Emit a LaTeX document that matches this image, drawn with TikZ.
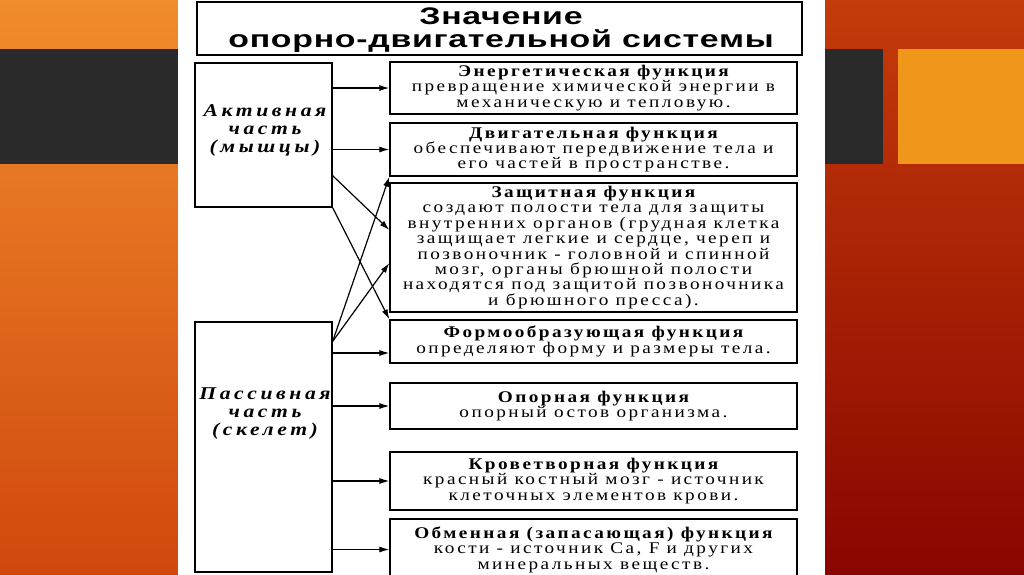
\documentclass[tikz,border=0pt]{standalone}
\usepackage{fontspec}
\setmainfont{Liberation Serif}
\newfontfamily\titlefont[FakeStretch=1.41,LetterSpace=3]{Liberation Sans}
\newfontfamily\bodyfont[FakeStretch=1.18,LetterSpace=15]{Liberation Serif}
\newfontfamily\sidefont[FakeStretch=1.2,LetterSpace=20]{Liberation Serif}
\usetikzlibrary{arrows.meta}
\definecolor{orTop}{HTML}{F08C2C}
\definecolor{orBot}{HTML}{D0480E}
\definecolor{rdTop}{HTML}{C43C0A}
\definecolor{rdBot}{HTML}{8A0500}
\definecolor{band}{HTML}{2A2A2A}
\definecolor{sq}{HTML}{F0961A}
\tikzset{
  box/.style={draw=black, line width=1.3pt, rectangle, inner sep=0pt},
  fbox/.style={box, minimum width=407pt, align=center,
    font=\bodyfont\fontsize{16.3}{15.4}\selectfont},
  sbox/.style={box, minimum width=137pt},
  stext/.style={align=center, inner sep=0pt,
    font=\sidefont\bfseries\itshape\fontsize{18}{18}\selectfont},
  arr/.style={line width=1.2pt, -{Latex[length=10pt,width=6pt]}}
}
\begin{document}
\begin{tikzpicture}[x=1pt,y=-1pt]
\useasboundingbox (0,0) rectangle (1024,574);
\clip (0,0) rectangle (1024,574);
% background
\shade[top color=orTop, bottom color=orBot] (0,0) rectangle (178,574);
\shade[top color=rdTop, bottom color=rdBot] (825,0) rectangle (1024,574);
\fill[white] (178,0) rectangle (825,574);
\fill[band] (0,49) rectangle (178,164);
\fill[band] (825,49) rectangle (883,164);
\fill[sq] (898,49) rectangle (1024,164);
% title
\node[box, minimum width=605pt, minimum height=53pt] (title) at (499.5,28.5) {};
\node[align=center, inner sep=0pt,
  font=\titlefont\bfseries\fontsize{24}{23.5}\selectfont] (titlet) at (501,30)
  {Значение\\опорно-двигательной системы};
% side boxes
\node[sbox, minimum height=144pt] (act) at (263.5,135) {};
\node[sbox, minimum height=250pt] (pas) at (263.5,447) {};
\node[stext] (actt) at (265,130) {Активная\\часть\\(мышцы)};
\node[stext] (past) at (265,414) {Пассивная\\часть\\(скелет)};
% function boxes
\node[fbox, minimum height=52pt] (f1) at (593.5,88)
  {{\bfseries Энергетическая функция}\\превращение химической энергии в\\механическую и тепловую.};
\node[fbox, minimum height=53pt] (f2) at (593.5,149.5)
  {{\bfseries Двигательная функция}\\обеспечивают передвижение тела и\\его частей в пространстве.};
\node[fbox, minimum height=129pt] (f3) at (593.5,247.5)
  {{\bfseries Защитная функция}\\создают полости тела для защиты\\внутренних органов (грудная клетка\\защищает легкие и сердце, череп и\\позвоночник - головной и спинной\\мозг, органы брюшной полости\\находятся под защитой позвоночника\\и брюшного пресса).};
\node[fbox, minimum height=43pt] (f4) at (593.5,341.5)
  {{\bfseries Формообразующая функция}\\определяют форму и размеры тела.};
\node[fbox, minimum height=46pt] (f5) at (593.5,406)
  {{\bfseries Опорная функция}\\опорный остов организма.};
\node[fbox, minimum height=58pt] (f6) at (593.5,481)
  {{\bfseries Кроветворная функция}\\красный костный мозг - источник\\клеточных элементов крови.};
\node[fbox, minimum height=61pt] (f7) at (593.5,549.5)
  {{\bfseries Обменная (запасающая) функция}\\кости - источник Са, F и других\\минеральных веществ.};
% connectors
\coordinate (a3) at ([yshift=32pt]act.south east);
\coordinate (t3a) at ([yshift=17.5pt]f3.west);
\coordinate (p0) at ([yshift=-20pt]pas.north east);
\coordinate (t3b) at ([yshift=-15.5pt]f3.west);
\coordinate (t4) at ([yshift=-11.5pt]f4.west);
\draw[arr] (act.east |- f1.west) -- (f1.west);
\draw[arr] (act.east |- f2.west) -- (f2.west);
\draw[arr] (a3) -- (t3a);
\draw[arr] (act.south east) -- (f4.north west);
\draw[arr] (p0) -- (f2.south west);
\draw[arr] (p0) -- (t3b);
\draw[arr] (pas.east |- t4) -- (t4);
\draw[arr] (pas.east |- f5.west) -- (f5.west);
\draw[arr] (pas.east |- f6.west) -- (f6.west);
\draw[arr] (pas.east |- f7.west) -- (f7.west);
\end{tikzpicture}
\end{document}
